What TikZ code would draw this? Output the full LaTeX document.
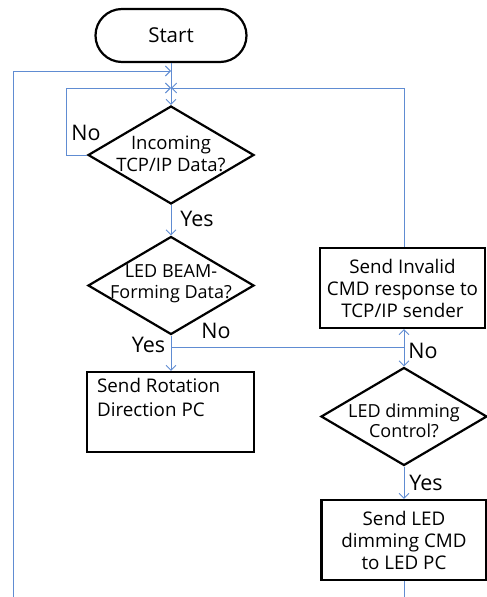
\documentclass[tikz,border=0pt]{standalone}
\usepackage{fontspec}
\setmainfont{Open Sans}
\usetikzlibrary{shapes.geometric,shapes.misc,arrows.meta}
\definecolor{flow}{RGB}{96,140,210}
\tikzset{
  flowline/.style={draw=flow, line width=0.9pt},
  flowarr/.style={flowline, -{Straight Barb[length=5pt,width=10pt]}},
  box/.style={draw=black, line width=2.2pt, rectangle, inner sep=0pt, align=center, font=\fontsize{18.8}{22}\selectfont},
  dia/.style={draw=black, line width=2.2pt, diamond, inner sep=0pt, minimum width=166pt, minimum height=98pt},
  diatext/.style={align=center, inner sep=0pt, font=\fontsize{18.5}{22}\selectfont},
  lbl/.style={inner sep=0pt, font=\fontsize{21.5}{24}\selectfont},
}
\begin{document}
\begin{tikzpicture}[x=1pt,y=-1pt]
\useasboundingbox (0,0) rectangle (487,597);
% nodes
\node[draw=black, line width=2.2pt, rounded rectangle, minimum width=151pt, minimum height=53pt, inner sep=0pt, font=\fontsize{20.5}{24}\selectfont] (start) at (171,35.5) {Start};
\node[dia] (d1) at (171,155) {};
\node[diatext] (d1t) at (171,154) {Incoming\\TCP/IP Data?};
\node[dia] (d2) at (171,285.5) {};
\node[diatext, font=\fontsize{18}{21}\selectfont] (d2t) at (171,284) {LED BEAM-\\Forming Data?};
\node[box, minimum width=167pt, minimum height=80pt] (rot) at (170.5,412) {};
\node[box, draw=none, anchor=north west, align=left, font=\fontsize{18.8}{24}\selectfont] (rott) at (96,377) {Send Rotation\\Direction PC};
\node[box, minimum width=165pt, minimum height=80pt] (inv) at (402.5,288) {Send Invalid\\CMD response to\\TCP/IP sender};
\node[dia] (d3) at (404,416.5) {};
\node[diatext, font=\fontsize{18}{20}\selectfont] (d3t) at (404,421) {LED dimming\\Control?};
\node[box, minimum width=165pt, minimum height=80pt] (led) at (404,540) {Send LED\\dimming CMD\\to LED PC};
% helper coordinates
\coordinate (m1) at (171,71);
\coordinate (m2) at (171,88);
\coordinate (loopbot) at (13,597);
\coordinate (split) at (171,347);
\coordinate (rj) at (404,347);
\coordinate (ledout) at (404,597);
% connectors
\draw[flowarr] (start.south) -- (d1.north);
\draw[flowarr] (loopbot) -- (13,71) -- (m1);
\draw[flowarr] (d1.west) -- (66,155) -- (66,88) -- (m2);
\draw[flowarr] (inv.north -| rj) -- (404,88) -- (m2);
\draw[flowarr] (d1.south) -- (d2.north);
\draw[flowarr] (d2.south) -- (rot.north -| d2.south);
\draw[flowline] (split) -- (rj);
\draw[flowarr] (rj) -- (inv.south -| rj);
\draw[flowarr] (rj) -- (d3.north);
\draw[flowarr] (d3.south) -- (led.north -| d3.south);
\draw[flowline] (led.south -| d3.south) -- (ledout);
% labels
\node[lbl] (lno1) at (86,133) {No};
\node[lbl] (lyes1) at (197,219) {Yes};
\node[lbl] (lyes2) at (148.5,345) {Yes};
\node[lbl] (lno2) at (216,331) {No};
\node[lbl] (lno3) at (423,351) {No};
\node[lbl] (lyes3) at (426,483) {Yes};
\end{tikzpicture}
\end{document}
